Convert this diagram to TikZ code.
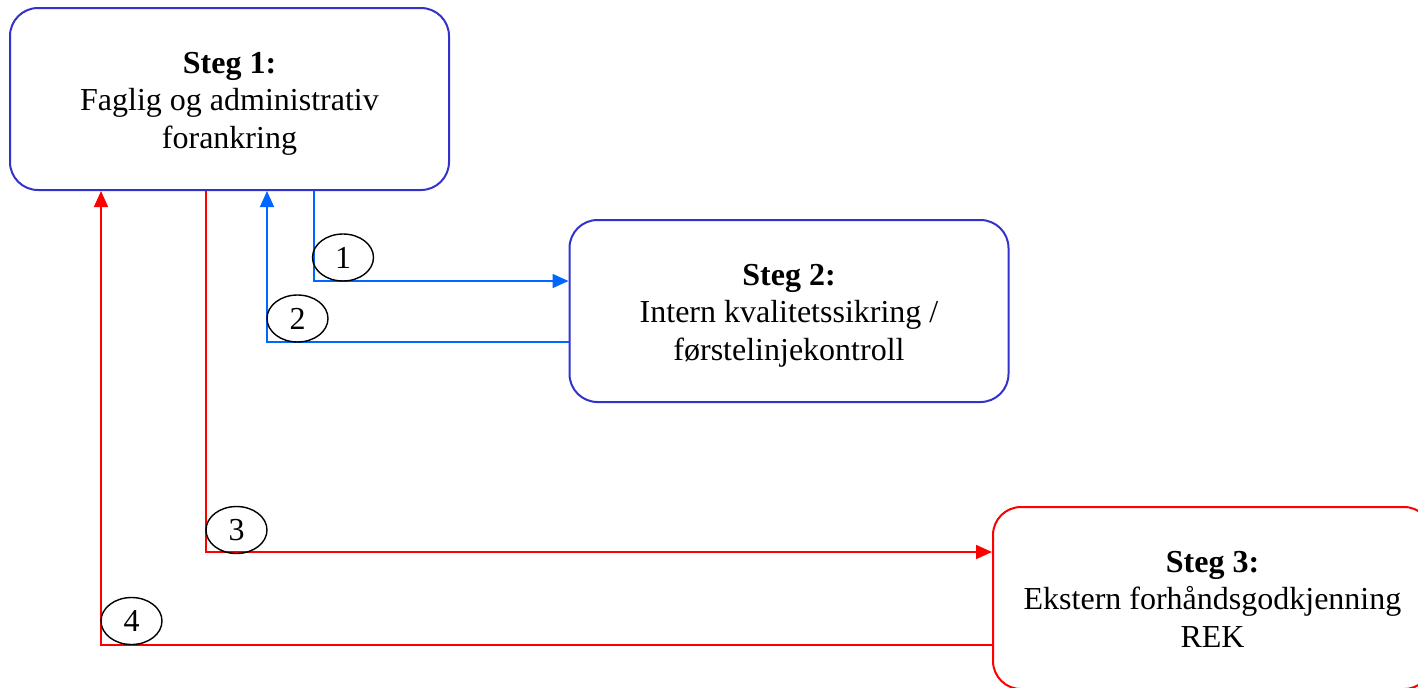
\documentclass[tikz,border=0pt]{standalone}
\usepackage{fontspec}
\setmainfont{Liberation Serif}
\usetikzlibrary{arrows.meta,shapes.geometric}

\definecolor{boxblue}{RGB}{51,51,204}
\definecolor{flowblue}{RGB}{0,102,255}
\definecolor{flowred}{RGB}{255,0,0}

% text of a step, set 2pt lower than the middle of its box
\newcommand{\steplines}[1]{\raisebox{-2.2pt}[\height][\depth]{%
  \begin{tabular}{@{}c@{}}#1\end{tabular}}}

\begin{document}
\begin{tikzpicture}[x=0.5pt,y=-0.5pt,
  stepbox/.style={draw,rounded corners=14pt,line width=1pt,
    minimum width=219.5pt,minimum height=91pt,
    font=\fontsize{16}{18.75}\selectfont},
  numlabel/.style={draw,ellipse,line width=0.7pt,inner sep=0pt,
    minimum width=30.5pt,minimum height=23.5pt,
    font=\fontsize{16}{18.75}\selectfont},
  blueflow/.style={flowblue,line width=0.8pt,-{Triangle[length=8pt,width=7pt]}},
  redflow/.style={flowred,line width=0.8pt,-{Triangle[length=8pt,width=7pt]}}]

\useasboundingbox (0,0) rectangle (1418,687);
\clip (0,0) rectangle (1418,687);


% Part A: Steps


% Steg 1
\node[stepbox,boxblue,text=black] (s1) at (229.5,99)
  {\steplines{\textbf{Steg 1:}\\Faglig og administrativ\\forankring}};

% Steg 2
\node[stepbox,boxblue,text=black] (s2) at (789,311)
  {\steplines{\textbf{Steg 2:}\\Intern kvalitetssikring /\\ førstelinjekontroll}};

% Steg 3
\node[stepbox,flowred,text=black] (s3) at (1212.5,598)
  {\steplines{\textbf{Steg 3:}\\Ekstern forhåndsgodkjenning\\REK}};


% Part B: Bends of the flows


\coordinate (a1) at (314,281);
\coordinate (a2) at (267,342);
\coordinate (a3) at (206,552);
\coordinate (a4) at (101,645);


% Part C: Flows


% 1 and 2: internal round
\draw[blueflow] (s1.south -| a1) |- (a1 -| s2.west);
\draw[blueflow] (a2 -| s2.west) -| (s1.south -| a2);

% 3 and 4: external round
\draw[redflow] (s1.south -| a3) |- (a3 -| s3.west);
\draw[redflow] (a4 -| s3.west) -| (s1.south -| a4);


% Part D: Numbers


\node[numlabel] (n1) at (343,257.5) {1};
\node[numlabel] (n2) at (297.5,318.5) {2};
\node[numlabel] (n3) at (236.5,530) {3};
\node[numlabel] (n4) at (131.5,621) {4};

\end{tikzpicture}
\end{document}
